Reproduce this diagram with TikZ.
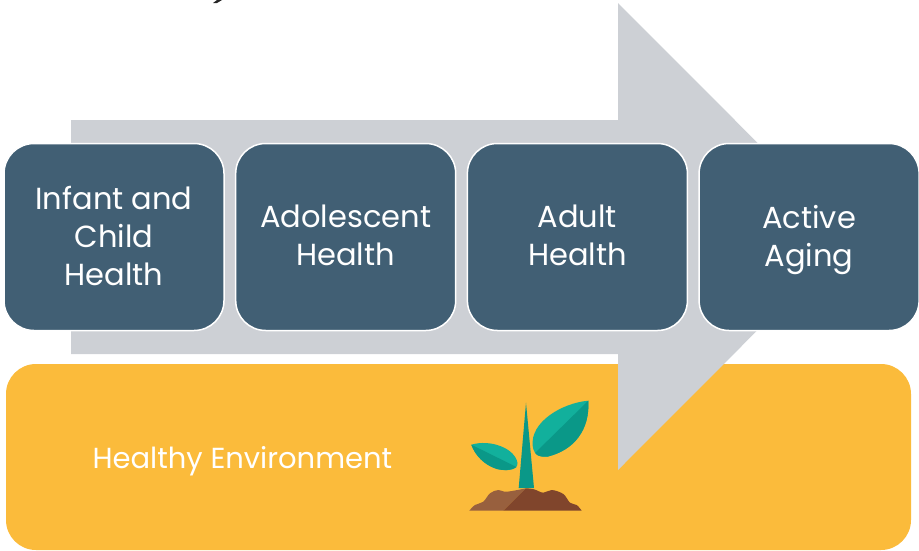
\documentclass[tikz,border=0pt]{standalone}
\usepackage{fontspec}
\setmainfont{Poppins}
\usetikzlibrary{positioning}
\definecolor{boxblue}{HTML}{415F74}
\definecolor{arrowgrey}{HTML}{CDD0D5}
\definecolor{envyellow}{HTML}{FBBB3B}
\definecolor{haloyellow}{HTML}{FCC044}
\definecolor{leaflight}{HTML}{12B09C}
\definecolor{leafdark}{HTML}{0A9888}
\definecolor{soillight}{HTML}{98603E}
\definecolor{soildark}{HTML}{80452C}
\newcommand{\lift}{\rule[-3pt]{0pt}{3pt}}
\tikzset{
  x=1pt, y=-1pt,
  stage/.style={draw=white, line width=1.5pt, fill=boxblue, rounded corners=30pt, text=white,
    minimum width=220pt, minimum height=187pt, inner sep=0pt, align=center,
    font=\fontsize{30.5}{38}\selectfont},
}
\begin{document}
\begin{tikzpicture}
  \useasboundingbox (0,0) rectangle (919,550);

  % Define nodes
  \node[fill=envyellow, rounded corners=30pt, minimum width=905pt, minimum height=186pt, inner sep=0pt,
    path picture={\draw[haloyellow, line width=1pt] (525.5,457) circle[radius=107.5pt];}] (env) at (458.5,457) {};

  % Arrow behind the stages
  \fill[arrowgrey] (71,120) -- (618,120) -- (618,3) -- (851,236.5) -- (618,470) -- (618,354) -- (71,354) -- cycle;

  \node[stage] (infant) at (114,237) {Infant and\\Child\\Health\lift};
  \node[stage, right=10.2pt of infant] (adolescent) {Adolescent\\Health\lift};
  \node[stage, right=10.2pt of adolescent] (adult) {Adult\\Health\lift};
  \node[stage, right=10.2pt of adult] (aging) {Active\\\smash{Aging}\lift};
  \node[text=white, font=\fontsize{29}{36}\selectfont, anchor=west] (healthy) at (89,461) {Healthy Environment};

  % Cut off line at the top
  \fill[black!85] (213,3) -- (217,3) -- (222,0) -- (217,0) -- cycle;

  % Plant
  \fill[leafdark] (526,402.7) -- (534,488) -- (518.7,488) -- cycle;
  \fill[leaflight] (588.3,400.7) .. controls (562,403) and (530,422) .. (532.7,446)
    .. controls (534,457) and (542,457) .. (548,456.5)
    .. controls (574,450) and (590,430) .. (588.3,400.7) -- cycle;
  \fill[leafdark] (588.3,400.7) .. controls (590,430) and (574,450) .. (548,456.5)
    .. controls (543,457) and (538,457) .. (535,453) -- cycle;
  \fill[leaflight] (471.3,444.7) .. controls (490,439) and (515,448) .. (517.5,463)
    .. controls (518,471) and (505,471) .. (497,469)
    .. controls (484,465) and (475,455) .. (471.3,444.7) -- cycle;
  \fill[leafdark] (471.3,444.7) -- (516.5,467) .. controls (510,471) and (503,470.5) .. (497,469)
    .. controls (484,465) and (475,455) .. (471.3,444.7) -- cycle;
  \fill[soillight] (469.3,510.7) -- plot[smooth, tension=0.6] coordinates {(469.3,510.7) (475,505) (483.3,501.7) (490,493.3) (498.3,490) (506.7,491.7) (526,488.3)} -- (503.3,510.7) -- cycle;
  \fill[soildark] (526,488.3) -- plot[smooth, tension=0.6] coordinates {(526,488.3) (534,489.3) (543.3,492.7) (551.7,490) (563.3,494) (570,502.7) (576.7,505) (581.7,510.7)} -- (503.3,510.7) -- cycle;
\end{tikzpicture}
\end{document}
